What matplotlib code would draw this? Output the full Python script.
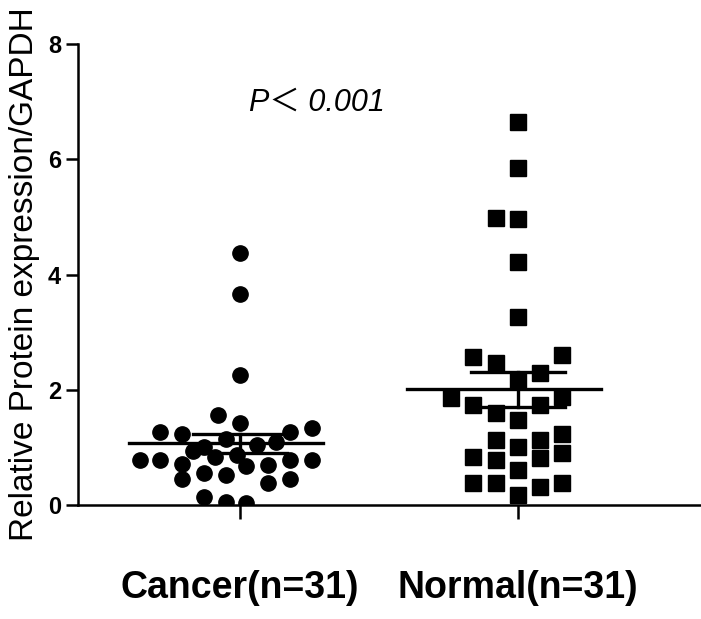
import numpy as np
import matplotlib
matplotlib.use("Agg")
from matplotlib import pyplot as plt

# values
groups = ["Cancer(n=31)", "Normal(n=31)"]
cancer_y = [4.38, 3.67, 2.25, 1.56, 1.42, 1.27, 1.24, 1.27, 1.33,
            0.78, 0.78, 0.72, 0.78, 0.78, 0.67, 0.69,
            0.93, 0.84, 0.87, 1.00, 1.05, 1.10, 1.15,
            0.55, 0.52, 0.46, 0.46, 0.38, 0.14, 0.06, 0.03]
cancer_dx = [0.0, 0.0, 0.0, -0.08, 0.0, -0.29, -0.21, 0.18, 0.26,
             -0.36, -0.29, -0.21, 0.18, 0.26, 0.02, 0.10,
             -0.17, -0.09, -0.01, -0.13, 0.06, 0.13, -0.05,
             -0.13, -0.05, -0.21, 0.18, 0.10, -0.13, -0.05, 0.02]
normal_y = [6.65, 5.85, 4.98, 4.96, 4.22, 3.27, 2.57, 2.60, 2.46, 2.29, 2.17,
            1.85, 1.88, 1.74, 1.74, 1.59, 1.48, 1.24, 1.13, 1.13, 1.01,
            0.84, 0.90, 0.78, 0.81, 0.61, 0.38, 0.38, 0.38, 0.32, 0.17]
normal_dx = [0.0, 0.0, -0.08, 0.0, 0.0, 0.0, -0.16, 0.16, -0.08, 0.08, 0.0,
             -0.24, 0.16, -0.16, 0.08, -0.08, 0.0, 0.16, -0.08, 0.08, 0.0,
             -0.16, 0.16, -0.08, 0.08, 0.0, -0.16, -0.08, 0.16, 0.08, 0.0]

fig = plt.figure(figsize=(7.01, 6.19), dpi=100)
ax = fig.add_axes([0.111, 0.184, 0.889, 0.745])

# scatter points
ax.plot(1 + np.array(cancer_dx), cancer_y, "o", color="black", ms=11, mec="black")
ax.plot(2 + np.array(normal_dx), normal_y, "s", color="black", ms=11, mec="black")

# mean line and SEM bars
for x, vals in [(1, cancer_y), (2, normal_y)]:
    vals = np.array(vals)
    m = vals.mean()
    sem = vals.std(ddof=1) / np.sqrt(len(vals))
    ax.plot([x - 0.4, x + 0.3], [m, m], color="black", lw=2.4)
    ax.plot([x, x], [m - sem, m + sem], color="black", lw=2.4)
    ax.plot([x - 0.17, x + 0.17], [m + sem, m + sem], color="black", lw=2.4)
    ax.plot([x - 0.17, x + 0.17], [m - sem, m - sem], color="black", lw=2.4)

ax.set_xlim(0.415, 2.66)
ax.set_ylim(0, 8)
ax.set_yticks([0, 2, 4, 6, 8])
ax.set_xticks([1, 2])
ax.set_xticklabels(groups, fontsize=27, fontweight="bold", family="Liberation Sans")
for lab in ax.get_yticklabels():
    lab.set_fontsize(17)
    lab.set_fontweight("bold")
    lab.set_family("Liberation Sans")
ax.tick_params(axis="y", length=9, width=1.8, pad=3)
ax.tick_params(axis="x", length=10, width=1.8, pad=37)

ax.spines["top"].set_visible(False)
ax.spines["right"].set_visible(False)
ax.spines["left"].set_linewidth(1.8)
ax.spines["bottom"].set_linewidth(1.8)

ax.set_ylabel("Relative Protein expression/GAPDH", fontsize=24,
              family="Liberation Sans", labelpad=6)

ax.text(1.03, 6.98, "P＜ 0.001", fontsize=22, style="italic",
        family=["Liberation Sans", "Noto Sans CJK SC"], ha="left", va="center")

fig.savefig("out.png", dpi=100)
